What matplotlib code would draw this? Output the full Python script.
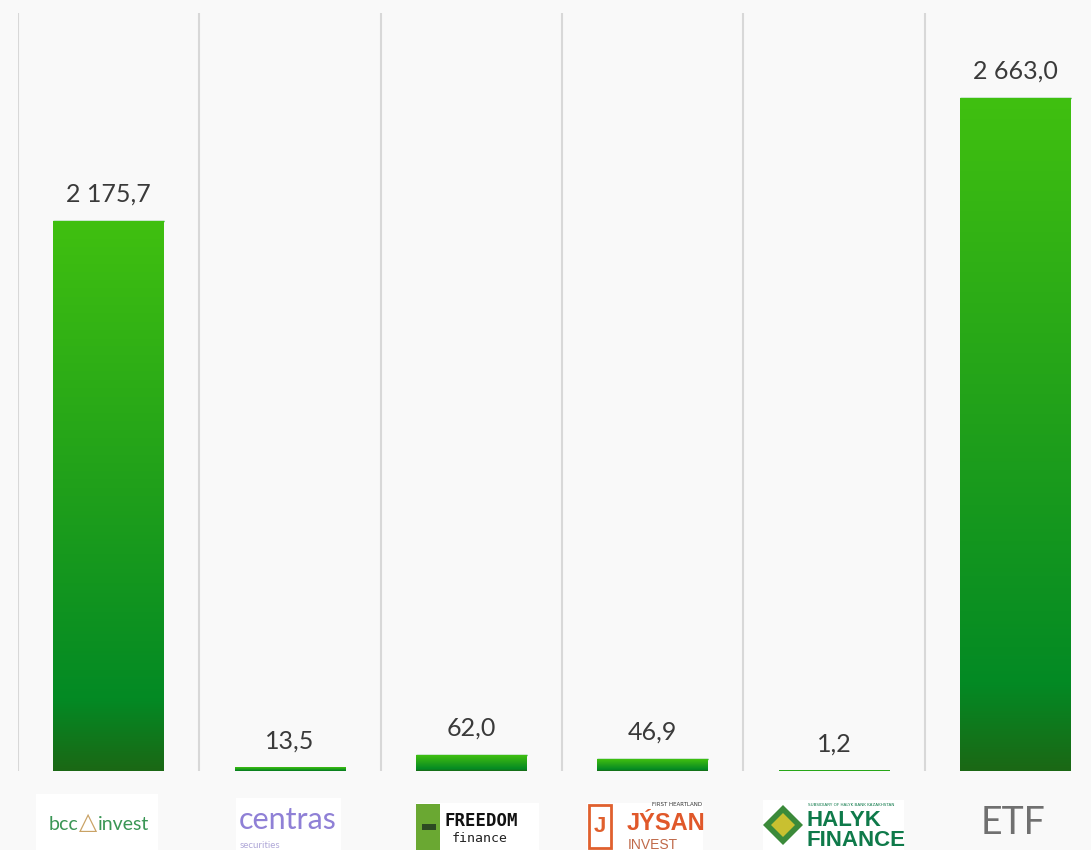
import numpy as np
import matplotlib.pyplot as plt
from matplotlib.colors import LinearSegmentedColormap
from matplotlib.patches import Rectangle, Polygon

companies = ['BCC Invest', 'Centras Securities', 'Freedom Finance', 'Jysan Invest', 'Halyk Finance', 'ETF']
values = [2175.7, 13.5, 62.0, 46.9, 1.2, 2663.0]
value_labels = ['2 175,7', '13,5', '62,0', '46,9', '1,2', '2 663,0']

bg = '#f9f9f9'
green_cmap = LinearSegmentedColormap.from_list(
    'bars', [(0.0, '#1b6815'), (0.13, '#038a24'), (0.5, '#1f9f1b'), (1.0, '#40c010')])

W, H = 1091, 850
fig = plt.figure(figsize=(W / 100, H / 100), dpi=100, facecolor=bg)
ax = fig.add_axes([18 / W, 79 / H, 1088 / W, 758 / H])
ax.set_facecolor(bg)

x = np.arange(len(values))
width = 0.61
grad = np.linspace(0, 1, 256).reshape(-1, 1)

for i, v in zip(x, values):
    ax.imshow(grad, cmap=green_cmap, origin='lower', aspect='auto',
              extent=[i - width / 2, i + width / 2, 0, v], zorder=2)
    # keep very small bars visible as a thin line
    ax.plot([i - width / 2, i + width / 2], [v, v], color='#0a9a20', lw=1.0,
            solid_capstyle='butt', zorder=1)
    ax.annotate(value_labels[i], (i, v), xytext=(0, 11), textcoords='offset points',
                ha='center', va='bottom', fontsize=18, color='#3a3a3a',
                family='Lato')

for b in x:
    ax.axvline(b - 0.5, color='#d8d8d8', lw=1.5, zorder=0)

ax.set_xlim(-0.5, len(values) - 0.5)
ax.set_ylim(0, 3000)
for s in ax.spines.values():
    s.set_visible(False)
ax.set_xticks([])
ax.set_yticks([])


# logo stand-ins, placed in pixel coordinates of the figure
def px(xp, yp):
    return xp / W, 1 - yp / H


def logo_box(x0, y0, x1, y1, **kw):
    kw.setdefault('fc', 'white')
    kw.setdefault('ec', 'none')
    fig.patches.append(Rectangle(px(x0, y1), (x1 - x0) / W, (y1 - y0) / H,
                                 transform=fig.transFigure, **kw))


def diamond(cx, cy, r, color):
    pts = [px(cx, cy - r), px(cx + r, cy), px(cx, cy + r), px(cx - r, cy)]
    fig.patches.append(Polygon(pts, closed=True, transform=fig.transFigure,
                               fc=color, ec='none'))


def txt(xp, yp, s, **kw):
    kw.setdefault('ha', 'left')
    kw.setdefault('va', 'center')
    fig.text(*px(xp, yp), s, **kw)


logo_box(36, 794, 158, 850)
txt(49, 824, 'bcc', fontsize=14, color='#3a9655', family='Lato')
txt(88, 822, '△', fontsize=17, color='#c9a265', family=['DejaVu Sans'], ha='center')
txt(98, 824, 'invest', fontsize=14, color='#3a9655', family='Lato')

logo_box(236, 798, 341, 850)
txt(288, 820, 'centras', fontsize=22, color='#8f80d6', family='Lato', ha='center')
txt(240, 845, 'securities', fontsize=7, color='#b0a8d8', family='Lato')

logo_box(416, 803, 539, 850)
logo_box(416, 804, 440, 850, fc='#6aa832')
logo_box(422, 824, 436, 830, fc='#2c4a22')
txt(444, 821, 'FREEDOM', fontsize=12.5, color='#111111', family='DejaVu Sans Mono',
    weight='bold')
txt(452, 838, 'finance', fontsize=9.5, color='#222222', family='DejaVu Sans Mono')

logo_box(587, 803, 703, 850)
logo_box(589, 805, 611, 848, fc='white', ec='#e0602e', lw=2)
txt(600, 827, 'J', fontsize=16, color='#e0602e', family='Liberation Sans',
    weight='bold', ha='center')
txt(627, 823, 'JÝSAN', fontsize=17, color='#e0582a', family='Liberation Sans',
    weight='bold')
txt(702, 805, 'FIRST HEARTLAND', fontsize=4, color='#333333', ha='right')
txt(628, 845, 'INVEST', fontsize=10, color='#c06a4a', family='Liberation Sans')

logo_box(763, 800, 904, 850)
diamond(783, 825, 20, '#3b8a3a')
diamond(783, 825, 12, '#c9c030')
txt(806, 821, 'HALYK', fontsize=16, color='#0f7a4a', family='Liberation Sans',
    weight='bold')
txt(806, 840, 'FINANCE', fontsize=16, color='#0f7a4a', family='Liberation Sans',
    weight='bold')
txt(808, 805, 'SUBSIDIARY OF HALYK BANK KAZAKHSTAN', fontsize=3, color='#0f7a4a')

txt(1013, 823, 'ETF', fontsize=27, color='#707070', family='Lato', ha='center')

fig.savefig('out.png', dpi=100, facecolor=bg)
